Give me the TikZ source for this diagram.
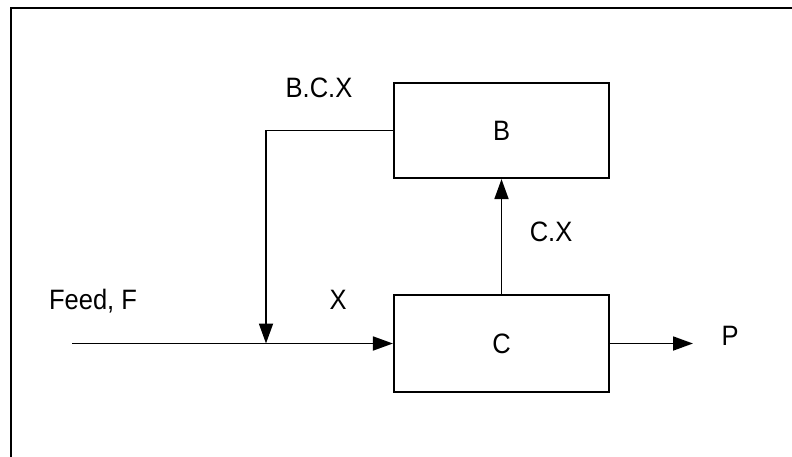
\documentclass[tikz,border=0pt]{standalone}
\usepackage{fontspec}
\usepackage{graphicx}
\setmainfont{Liberation Sans}
\usetikzlibrary{arrows.meta}
\newcommand{\tallt}[1]{\scalebox{1}[1.1]{#1}}
\begin{document}
\begin{tikzpicture}[x=1pt,y=-1pt,
  blk/.style={draw,line width=2.2pt,minimum width=215pt,minimum height=95pt,inner sep=0pt,font=\fontsize{25.5}{30}\selectfont},
  lbl/.style={inner sep=0pt,font=\fontsize{25.5}{30}\selectfont},
  conn/.style={line width=1.8pt},
  arr/.style={conn,-{Triangle[length=20pt,width=14pt]}}]
\useasboundingbox (0,0) rectangle (792,457);
\draw[line width=2pt] (11,457) -- (11,8) -- (792,8);
\node[blk] (B) at (501.5,130.5) {\tallt{B}};
\node[blk,minimum height=97pt] (C) at (501.5,343.5) {\raisebox{-4pt}{\tallt{C}}};
\node[lbl] (lbcx) at (319,88) {\tallt{B.C.X}};
\node[lbl] (lfeed) at (93,301) {\tallt{Feed, F}};
\node[lbl] (lx) at (338,300) {\tallt{X}};
\node[lbl] (lcx) at (551,232) {\tallt{C.X}};
\node[lbl] (lp) at (730,336) {\tallt{P}};
\coordinate (fs) at (72,343.5);
\coordinate (j) at (266,343.5);
\coordinate (pe) at (693,343.5);
\draw[arr] (fs) -- (C.west);
\draw[arr] (B.west) -| (j);
\draw[arr] (C.north) -- (B.south);
\draw[arr] (C.east) -- (pe);
\end{tikzpicture}
\end{document}
